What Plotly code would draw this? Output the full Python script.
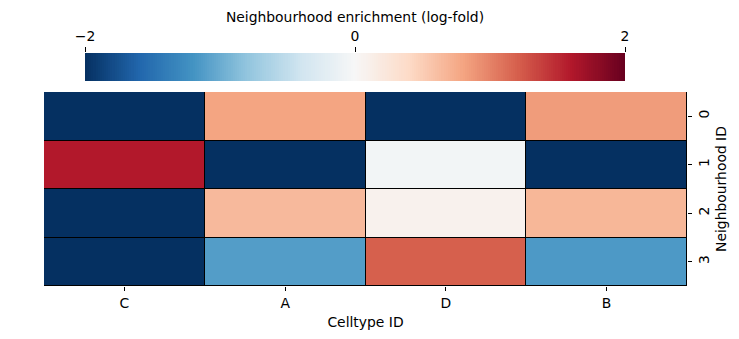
import numpy as np
import plotly.graph_objects as go

celltypes = ["C", "A", "D", "B"]
neighbourhoods = ["0", "1", "2", "3"]
enrichment = [
    [-3.0, 0.80, -3.0, 0.85],
    [1.60, -3.0, -0.05, -3.0],
    [-3.0, 0.65, 0.08, 0.67],
    [-3.0, -1.12, 1.20, -1.15],
]
cbar_ticks = [-2, 0, 2]
cbar_ticktext = ["\u22122", "0", "2"]
vmin, vmax = -2, 2

W, H = 739, 339
FONT = "DejaVu Sans"
FS = 13.9

fig = go.Figure()
fig.add_trace(go.Heatmap(
    z=enrichment, x=celltypes, y=neighbourhoods,
    colorscale="RdBu_r", zmin=vmin, zmax=vmax, showscale=False,
    xgap=1, ygap=1, xaxis="x", yaxis="y", hoverinfo="z",
))

# colorbar drawn as a gradient strip
edges = np.linspace(vmin, vmax, 257)
mids = (edges[:-1] + edges[1:]) / 2
fig.add_trace(go.Heatmap(
    z=[mids], x=edges, y=[0, 1], colorscale="RdBu_r", zmin=vmin, zmax=vmax,
    showscale=False, xaxis="x2", yaxis="y2", hoverinfo="skip",
))

tf = dict(family=FONT, size=FS, color="black")
fig.update_layout(
    width=W, height=H, margin=dict(l=0, r=0, t=0, b=0),
    paper_bgcolor="white", plot_bgcolor="black",
    font=dict(family=FONT, size=FS, color="black"),
    xaxis=dict(domain=[44 / W, 687 / W], anchor="y", ticks="outside", ticklen=4,
               tickcolor="black", showgrid=False, zeroline=False, automargin=False,
               title=dict(text="Celltype ID", standoff=7, font=tf), tickfont=tf),
    yaxis=dict(domain=[(H - 286) / H, (H - 92) / H], anchor="x", side="right",
               autorange="reversed", ticks="outside", ticklen=4, tickcolor="black",
               tickangle=-90, showgrid=False, zeroline=False, automargin=False,
               title=dict(text="Neighbourhood ID", standoff=5, font=tf), tickfont=tf),
    xaxis2=dict(domain=[85 / W, 625 / W], anchor="y2", side="top", range=[vmin, vmax],
                tickvals=cbar_ticks, ticktext=cbar_ticktext, ticks="outside", ticklen=5,
                tickcolor="black", showgrid=False, zeroline=False, showline=False,
                automargin=False,
                title=dict(text="Neighbourhood enrichment (log-fold)", standoff=2, font=tf),
                tickfont=tf),
    yaxis2=dict(domain=[(H - 81) / H, (H - 53) / H], anchor="x2", range=[0, 1],
                showticklabels=False, ticks="", showgrid=False, zeroline=False,
                automargin=False),
)

fig.write_html("out.html")
